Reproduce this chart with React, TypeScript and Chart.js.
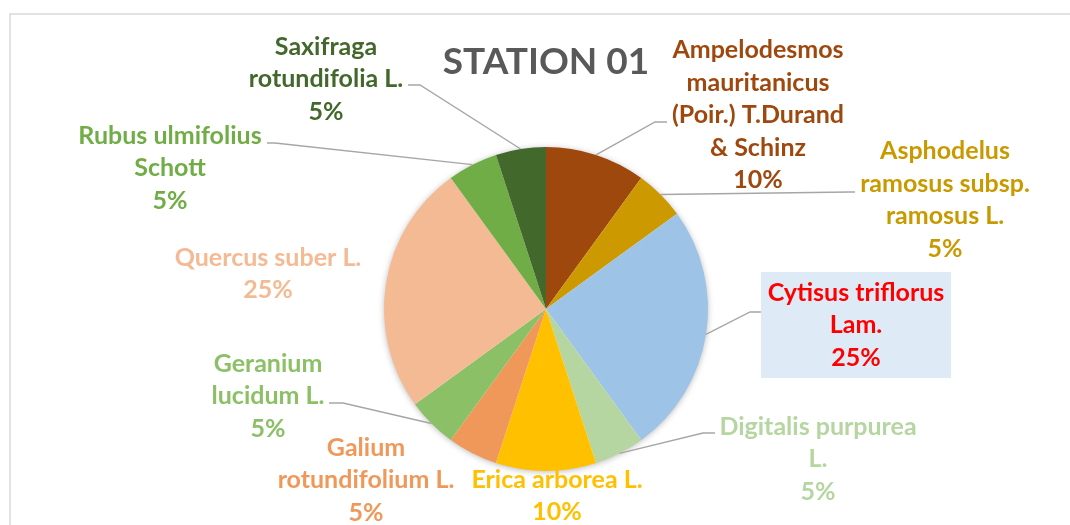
import React, { useEffect, useRef } from "react";
import { Chart, registerables } from "chart.js";

Chart.register(...registerables);

const titleText = "STATION 01";

const categories = [
  "Ampelodesmos mauritanicus (Poir.) T.Durand & Schinz",
  "Asphodelus ramosus subsp. ramosus L.",
  "Cytisus triflorus Lam.",
  "Digitalis purpurea L.",
  "Erica arborea L.",
  "Galium rotundifolium L.",
  "Geranium lucidum L.",
  "Quercus suber L.",
  "Rubus ulmifolius Schott",
  "Saxifraga rotundifolia L.",
];

const labelLines = [
  ["Ampelodesmos", "mauritanicus", "(Poir.) T.Durand", "& Schinz"],
  ["Asphodelus", "ramosus subsp.", "ramosus L."],
  ["Cytisus triflorus", "Lam."],
  ["Digitalis purpurea", "L."],
  ["Erica arborea L."],
  ["Galium", "rotundifolium L."],
  ["Geranium", "lucidum L."],
  ["Quercus suber L."],
  ["Rubus ulmifolius", "Schott"],
  ["Saxifraga", "rotundifolia L."],
];

const values = [10, 5, 25, 5, 10, 5, 5, 25, 5, 5];

const sliceColors = [
  "#9E480E",
  "#CC9A00",
  "#9DC3E6",
  "#B5D6A0",
  "#FFC000",
  "#F0985A",
  "#8CC066",
  "#F4BA93",
  "#70AD47",
  "#43682B",
];

const labelColors = [
  "#9E480E",
  "#C99A00",
  "#FF0000",
  "#B5D6A0",
  "#FFC000",
  "#F0985A",
  "#8CC066",
  "#F4BA93",
  "#70AD47",
  "#43682B",
];

// Label placement relative to the pie centre (layout only)
type Layout = {
  dx: number;
  dy: number;
  tail?: [number, number];
  elbow?: [number, number];
  box?: boolean;
};
const labelLayout: Layout[] = [
  { dx: 212, dy: -194, tail: [121, -187], elbow: [109, -187] },
  { dx: 399, dy: -109, tail: [309, -117], elbow: [304, -117] },
  { dx: 310, dy: 16, tail: [215, 3], elbow: [204, 3], box: true },
  { dx: 272, dy: 150, tail: [169, 124], elbow: [157, 124] },
  { dx: 11, dy: 187 },
  { dx: -180, dy: 171 },
  { dx: -278, dy: 87, tail: [-217, 94], elbow: [-203, 94] },
  { dx: -278, dy: -35 },
  { dx: -376, dy: -141, tail: [-279, -166], elbow: [-271, -166] },
  { dx: -220, dy: -230, tail: [-138, -224], elbow: [-126, -224] },
];

const FONT = "Lato, 'Open Sans', sans-serif";
const LINE_H = 32.5;

const labelsPlugin = {
  id: "excelLabels",
  beforeDatasetsDraw(chart: any) {
    const meta = chart.getDatasetMeta(0);
    const arc = meta.data[0];
    if (!arc) return;
    const ctx = chart.ctx;
    ctx.save();
    ctx.beginPath();
    ctx.arc(arc.x, arc.y, arc.outerRadius - 1, 0, Math.PI * 2);
    ctx.fillStyle = "#ffffff";
    ctx.shadowColor = "rgba(0,0,0,0.35)";
    ctx.shadowBlur = 7;
    ctx.shadowOffsetX = 0;
    ctx.shadowOffsetY = 1;
    ctx.fill();
    ctx.restore();
  },
  afterDraw(chart: any) {
    const ctx = chart.ctx;
    const meta = chart.getDatasetMeta(0);
    const total = values.reduce((a, b) => a + b, 0);

    // frame
    ctx.save();
    ctx.strokeStyle = "#D9D9D9";
    ctx.lineWidth = 1.5;
    ctx.beginPath();
    ctx.moveTo(10, chart.height);
    ctx.lineTo(10, 14);
    ctx.lineTo(chart.width, 14);
    ctx.stroke();

    // title
    ctx.fillStyle = "#595959";
    ctx.font = `bold 37px ${FONT}`;
    ctx.textAlign = "center";
    ctx.textBaseline = "middle";
    const a0 = meta.data[0];
    ctx.fillText(titleText, a0.x, 62);

    meta.data.forEach((arc: any, i: number) => {
      const lay = labelLayout[i];
      const cx = arc.x;
      const cy = arc.y;
      const mid = (arc.startAngle + arc.endAngle) / 2;
      const r = arc.outerRadius;

      // leader line
      if (lay.tail && lay.elbow) {
        ctx.strokeStyle = "#A6A6A6";
        ctx.lineWidth = 1.4;
        ctx.beginPath();
        ctx.moveTo(cx + Math.cos(mid) * r, cy + Math.sin(mid) * r);
        ctx.lineTo(cx + lay.elbow[0], cy + lay.elbow[1]);
        ctx.lineTo(cx + lay.tail[0], cy + lay.tail[1]);
        ctx.stroke();
      }

      const lines = [
        ...labelLines[i],
        `${Math.round((values[i] / total) * 100)}%`,
      ];
      const lx = cx + lay.dx;
      const ly = cy + lay.dy;

      if (lay.box) {
        ctx.fillStyle = "#DEEBF7";
        ctx.fillRect(lx - 95, ly - 53, 190, 106);
      }

      ctx.fillStyle = labelColors[i];
      ctx.font = `bold 25px ${FONT}`;
      ctx.textAlign = "center";
      ctx.textBaseline = "middle";
      lines.forEach((t, k) => {
        const y = ly + (k - (lines.length - 1) / 2) * LINE_H;
        ctx.fillText(t, lx, y);
      });
    });
    ctx.restore();
  },
};

export default function App() {
  const canvasRef = useRef<HTMLCanvasElement | null>(null);

  useEffect(() => {
    document.body.style.margin = "0";
    const canvas = canvasRef.current;
    if (!canvas) return;
    const chart = new Chart(canvas, {
      type: "pie",
      data: {
        labels: categories,
        datasets: [
          {
            data: values,
            backgroundColor: sliceColors,
            borderWidth: 0,
          },
        ],
      },
      options: {
        responsive: false,
        animation: false,
        devicePixelRatio: 1,
        layout: {
          padding: { top: 147, bottom: 54, left: 384, right: 362 },
        },
        plugins: {
          legend: { display: false },
          title: { display: false },
          tooltip: { enabled: false },
        },
      },
      plugins: [labelsPlugin],
    });
    return () => chart.destroy();
  }, []);

  return (
    <div style={{ width: 1070, height: 525, background: "#ffffff" }}>
      <canvas ref={canvasRef} width={1070} height={525} />
    </div>
  );
}
